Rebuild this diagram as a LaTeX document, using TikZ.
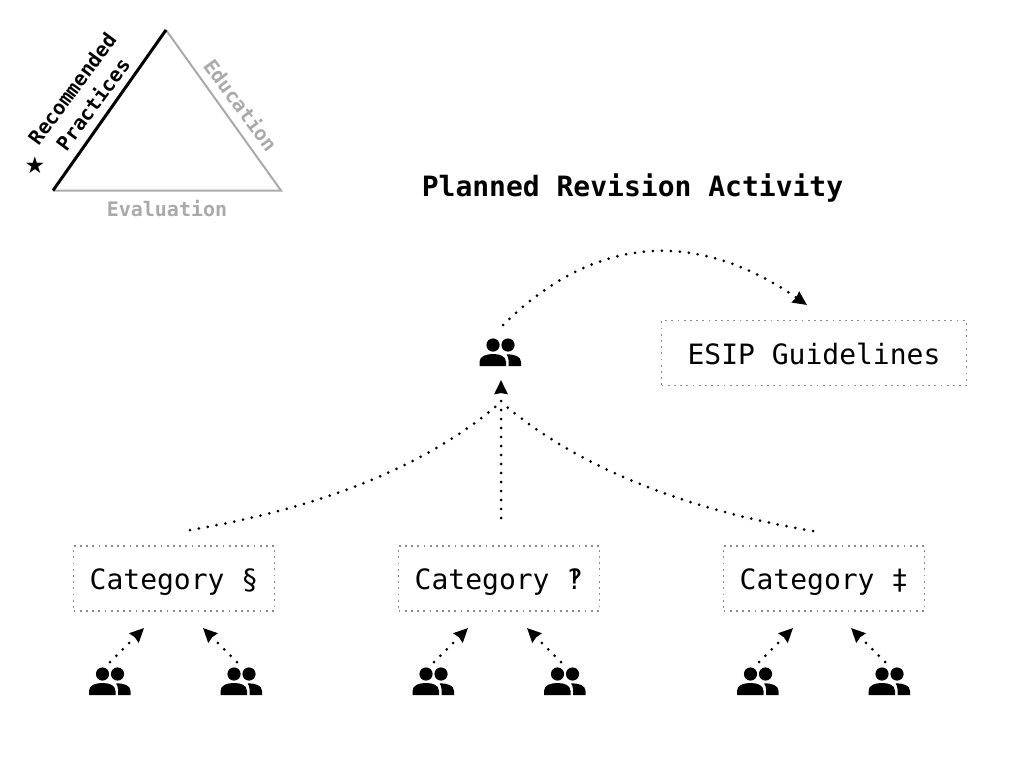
\documentclass[tikz,border=0pt]{standalone}
\usepackage{fontspec}
\setmainfont{DejaVu Sans Mono}
\newfontfamily\symfont{DejaVu Sans}
\usetikzlibrary{arrows.meta}
\definecolor{lightgr}{HTML}{AAAAAA}
\newcommand{\boxtext}[1]{\raisebox{-1.4pt}{#1}}
\tikzset{
  x=1pt,y=-1pt,
  catbox/.style={draw=gray!90,line width=1.8pt,dash pattern=on 1.8pt off 4.4pt,minimum width=201pt,minimum height=65pt,inner sep=0pt,text depth=0pt,font=\fontsize{28}{30}\selectfont},
  flow/.style={line width=3pt,line cap=round,dash pattern=on 0pt off 9pt,-{Stealth[length=14pt,width=13pt,inset=1pt]}},
  flowplain/.style={line width=3pt,line cap=round,dash pattern=on 0pt off 9pt},
  sidelabel/.style={font=\bfseries\fontsize{20}{26}\selectfont,align=center,inner sep=0pt},
  iconspot/.style={minimum width=42pt,minimum height=28pt,inner sep=0pt},
  people/.pic={
    \fill (-7.5,-8) circle (6.6);
    \fill (7.5,-8) circle (6.6);
    \fill (-21,13) -- (-21,9) .. controls (-21,3) and (-14,1) .. (-7.5,1) .. controls (-1,1) and (5.5,3) .. (5.5,9) -- (5.5,13) -- cycle;
    \fill (8,13) -- (8,7) .. controls (8,4.5) and (7,3) .. (6,1.5) .. controls (14,1) and (20.5,3.5) .. (20.5,9) -- (20.5,13) -- cycle;
  }
}
\begin{document}
\begin{tikzpicture}
\useasboundingbox (0,0) rectangle (1024,768);
% triangle
\coordinate (ta) at (53,190.5);
\coordinate (tb) at (166,30);
\coordinate (tc) at (281,190.5);
\draw[lightgr,line width=2pt,line join=miter] (tb) -- (tc) -- (ta);
\draw[black,line width=3pt] (ta) -- (tb);
\node[sidelabel,rotate=53.5] (rec) at (82.5,96.5) {Recommended\\Practices};
\node[sidelabel,lightgr,rotate=-53.5] (edu) at (241,105) {Education};
\node[sidelabel,lightgr] (eval) at (167,208.5) {Evaluation};
\node[font=\symfont\fontsize{23}{26}\selectfont,inner sep=0pt] (star) at (35,165) {★};
% title
\node[font=\bfseries\fontsize{28}{32}\selectfont,inner sep=0pt] (title) at (632.5,188) {Planned Revision Activity};
% boxes
\node[catbox,minimum width=305pt] (esip) at (814,353) {\boxtext{ESIP Guidelines}};
\node[catbox] (cata) at (174,578.5) {\boxtext{Category §}};
\node[catbox] (catb) at (499,578.5) {\boxtext{Category ‽}};
\node[catbox] (catc) at (824,578.5) {\boxtext{Category ‡}};
% icons
\node[iconspot] (lead) at (500.5,353) {};
\node[iconspot] (a1) at (110,682) {};
\node[iconspot] (a2) at (241.5,682) {};
\node[iconspot] (b1) at (433.5,682) {};
\node[iconspot] (b2) at (565,682) {};
\node[iconspot] (c1) at (758,682) {};
\node[iconspot] (c2) at (889.5,682) {};
\foreach \n in {lead,a1,a2,b1,b2,c1,c2} \pic at (\n) {people};
% connector ends
\coordinate (ls) at (503,325);
\coordinate (le) at (807,305);
\coordinate (vs) at (501,518);
\coordinate (ve) at (501,380);
\coordinate (join) at (501,402);
\coordinate (ca) at (190,530);
\coordinate (cc) at (813,531);
\coordinate (a1s) at (110,662); \coordinate (a1e) at (144,628);
\coordinate (a2s) at (237,662); \coordinate (a2e) at (203,628);
\coordinate (b1s) at (434,662); \coordinate (b1e) at (468,628);
\coordinate (b2s) at (561,662); \coordinate (b2e) at (527,628);
\coordinate (c1s) at (759,662); \coordinate (c1e) at (793,628);
\coordinate (c2s) at (885,662); \coordinate (c2e) at (851,628);
% connectors
\draw[flow] (ls) .. controls (594,235) and (696,228) .. (le);
\draw[flow] (vs) -- (ve);
\draw[flowplain] (ca) .. controls (326,507) and (430,464) .. (join);
\draw[flowplain] (cc) .. controls (677,508) and (573,464) .. (join);
\draw[flow] (a1s) -- (a1e);
\draw[flow] (a2s) -- (a2e);
\draw[flow] (b1s) -- (b1e);
\draw[flow] (b2s) -- (b2e);
\draw[flow] (c1s) -- (c1e);
\draw[flow] (c2s) -- (c2e);
\end{tikzpicture}
\end{document}
